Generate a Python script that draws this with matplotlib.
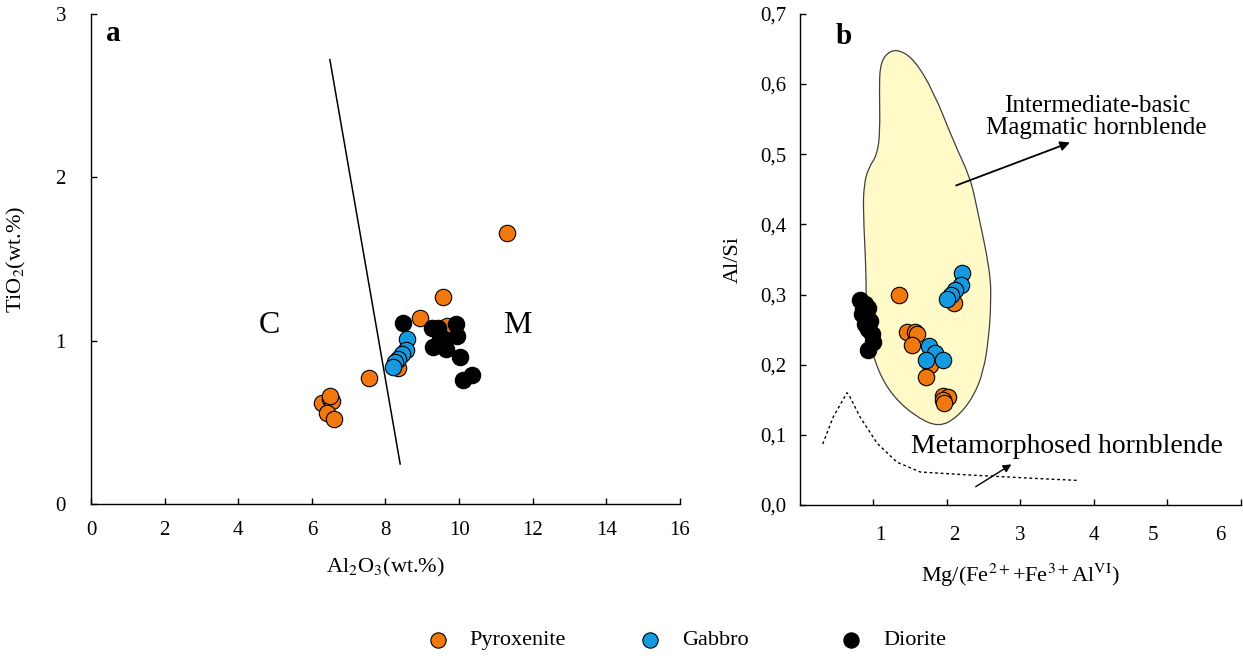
import matplotlib.pyplot as plt
from matplotlib.patches import PathPatch
from matplotlib.path import Path
from matplotlib.ticker import FuncFormatter

plt.rcParams['font.family'] = ['Liberation Serif', 'DejaVu Serif']
plt.rcParams['mathtext.fontset'] = 'stix'

# panel a: Al2O3 vs TiO2 (wt.%)
pyx_al = [11.29, 9.56, 8.94, 9.67, 7.54, 8.35, 6.27, 6.49, 6.54, 6.40, 6.60, 6.48]
pyx_ti = [1.66, 1.27, 1.14, 1.09, 0.77, 0.83, 0.62, 0.64, 0.63, 0.56, 0.52, 0.66]
gab_al = [8.58, 8.56, 8.44, 8.35, 8.26, 8.20]
gab_ti = [1.01, 0.94, 0.92, 0.89, 0.87, 0.84]
dio_al = [8.49, 9.26, 9.44, 9.91, 9.94, 9.48, 9.30, 9.64, 9.58, 10.03, 10.10, 10.36]
dio_ti = [1.11, 1.08, 1.08, 1.10, 1.03, 1.03, 0.96, 0.95, 1.01, 0.90, 0.76, 0.79]
div_line_x = [6.49, 8.40]
div_line_y = [2.72, 0.245]

# panel b: Mg/(Fe2+ + Fe3+ AlVI) vs Al/Si
pyx_mg = [1.35, 2.09, 1.45, 1.56, 1.59, 1.53, 1.77, 1.72, 1.95, 2.02, 1.94, 1.96]
pyx_alsi = [0.300, 0.288, 0.247, 0.247, 0.244, 0.228, 0.199, 0.182, 0.156, 0.154, 0.150, 0.145]
gab_mg = [2.21, 2.19, 2.11, 2.06, 2.00, 1.75, 1.84, 1.94, 1.71]
gab_alsi = [0.331, 0.314, 0.307, 0.300, 0.293, 0.227, 0.217, 0.207, 0.206]
dio_mg = [0.82, 0.88, 0.86, 0.93, 0.84, 0.91, 0.95, 0.88, 0.93, 0.98, 1.00, 0.93]
dio_alsi = [0.292, 0.286, 0.279, 0.281, 0.272, 0.267, 0.262, 0.258, 0.251, 0.244, 0.232, 0.221]

# magmatic hornblende field outline
field_x = [1.32, 1.55, 1.82, 2.09, 2.32, 2.41, 2.59, 2.60, 2.57, 2.50, 2.36, 2.14, 1.89,
           1.59, 1.27, 1.06, 0.93, 0.90, 0.90, 0.86, 0.87, 0.93, 1.05, 1.09, 1.08, 1.09, 1.17]
field_y = [0.650, 0.636, 0.589, 0.518, 0.466, 0.423, 0.333, 0.287, 0.239, 0.191, 0.154, 0.125, 0.111,
           0.125, 0.154, 0.191, 0.239, 0.286, 0.333, 0.418, 0.456, 0.480, 0.499, 0.532, 0.593, 0.626, 0.643]
# metamorphic boundary (dotted)
meta_x = [0.31, 0.45, 0.64, 0.68, 0.82, 1.05, 1.32, 1.64, 2.27, 3.18, 3.80]
meta_y = [0.087, 0.125, 0.160, 0.154, 0.125, 0.088, 0.061, 0.047, 0.043, 0.038, 0.035]

# panel b x tick labels sit a bit off their ticks in the original
b_xlabel_pos = [1.10, 2.10, 3.00, 4.00, 4.80, 5.72]
b_xlabels = ['1', '2', '3', '4', '5', '6']

orange = '#F0780F'
blue = '#159AE0'
msize = 140

fig = plt.figure(figsize=(12.43, 6.58), dpi=100)
axa = fig.add_axes([0.0732, 0.234, 0.4738, 0.745])
axb = fig.add_axes([0.6436, 0.2325, 0.3546, 0.7465])

for ax in (axa, axb):
    for s in ('top', 'right'):
        ax.spines[s].set_visible(False)
    for s in ('left', 'bottom'):
        ax.spines[s].set_linewidth(1.0)
    ax.tick_params(direction='in', length=4, width=1.0, labelsize=15)

# ---- panel a
axa.plot(div_line_x, div_line_y, color='black', lw=1.1)
axa.scatter(pyx_al, pyx_ti, s=msize, c=orange, edgecolors='black', linewidths=0.8, zorder=3)
axa.scatter(dio_al, dio_ti, s=msize, c='black', edgecolors='black', linewidths=0.8, zorder=3)
axa.scatter(gab_al, gab_ti, s=msize, c=blue, edgecolors='black', linewidths=0.8, zorder=4)
axa.set_xlim(0, 16)
axa.set_ylim(0, 3)
axa.set_xticks(range(0, 17, 2))
axa.set_yticks([0, 1, 2, 3])
axa.tick_params(axis='y', pad=18)
axa.tick_params(axis='x', pad=12)
axa.set_xlabel('Al$_2$O$_3$(wt.%)', fontsize=16, labelpad=12)
axa.set_ylabel('TiO$_2$(wt.%)', fontsize=16, labelpad=20)
axa.text(4.86, 1.09, 'C', fontsize=23, ha='center', va='center')
axa.text(11.58, 1.09, 'M', fontsize=23, ha='center', va='center')
axa.text(0.6, 2.88, 'a', fontsize=21, fontweight='bold', ha='center', va='center')

# ---- panel b
# smooth closed outline: quadratic curves through midpoints
pts = list(zip(field_x, field_y))
n = len(pts)
mids = [((pts[i][0] + pts[(i + 1) % n][0]) / 2, (pts[i][1] + pts[(i + 1) % n][1]) / 2) for i in range(n)]
verts = [mids[-1]]
codes = [Path.MOVETO]
for i in range(n):
    verts += [pts[i], mids[i]]
    codes += [Path.CURVE3, Path.CURVE3]
verts.append(mids[-1])
codes.append(Path.CLOSEPOLY)
axb.add_patch(PathPatch(Path(verts, codes), facecolor='#FFFAC8', edgecolor='#404040', lw=0.9, zorder=1))

axb.plot(meta_x, meta_y, color='black', lw=1.0, ls=(0, (2, 2)))
axb.scatter(dio_mg, dio_alsi, s=msize, c='black', edgecolors='black', linewidths=0.8, zorder=3)
axb.scatter(pyx_mg, pyx_alsi, s=msize, c=orange, edgecolors='black', linewidths=0.8, zorder=3)
axb.scatter(gab_mg, gab_alsi, s=msize, c=blue, edgecolors='black', linewidths=0.8, zorder=4)
axb.set_xlim(0, 6)
axb.set_ylim(0, 0.7)
axb.xaxis.remove_overlapping_locs = False
axb.set_xticks([1, 2, 3, 4, 5, 6])
axb.set_xticklabels([])
axb.set_xticks(b_xlabel_pos, minor=True)
axb.set_xticklabels(b_xlabels, minor=True)
axb.tick_params(axis='x', which='minor', length=0, pad=15, labelsize=15)
axb.set_yticks([0.0, 0.1, 0.2, 0.3, 0.4, 0.5, 0.6, 0.7])
axb.yaxis.set_major_formatter(FuncFormatter(lambda v, p: f'{v:.1f}'.replace('.', ',')))
axb.tick_params(axis='y', pad=10)
axb.set_xlabel(r'Mg/(Fe$^{2+}$+Fe$^{3+}$Al$^{\mathrm{VI}}$)', fontsize=16, labelpad=12)
axb.set_ylabel('Al/Si', fontsize=16, labelpad=12)
axb.text(0.59, 0.667, 'b', fontsize=21, fontweight='bold', ha='center', va='center')
axb.annotate('', xy=(3.71, 0.518), xytext=(2.09, 0.454),
             arrowprops=dict(arrowstyle='-|>', color='black', lw=1.3, mutation_scale=14))
axb.text(4.04, 0.553, 'Intermediate-basic\nMagmatic hornblende', fontsize=18,
         ha='center', va='center', linespacing=0.95)
axb.annotate('', xy=(2.91, 0.060), xytext=(2.36, 0.024),
             arrowprops=dict(arrowstyle='-|>', color='black', lw=1.0, mutation_scale=12))
axb.text(3.64, 0.084, 'Metamorphosed hornblende', fontsize=20, ha='center', va='center')

# ---- legend row at the bottom
leg_items = [('Pyroxenite', orange, 0.352), ('Gabbro', blue, 0.523), ('Diorite', 'black', 0.685)]
for name, col, xpos in leg_items:
    fig.add_artist(plt.Line2D([xpos], [0.027], marker='o', markersize=11, markerfacecolor=col,
                              markeredgecolor='black', markeredgewidth=0.8, transform=fig.transFigure))
    fig.text(xpos + 0.026, 0.027, name, fontsize=16, ha='left', va='center')

fig.savefig('out.png', dpi=100)
